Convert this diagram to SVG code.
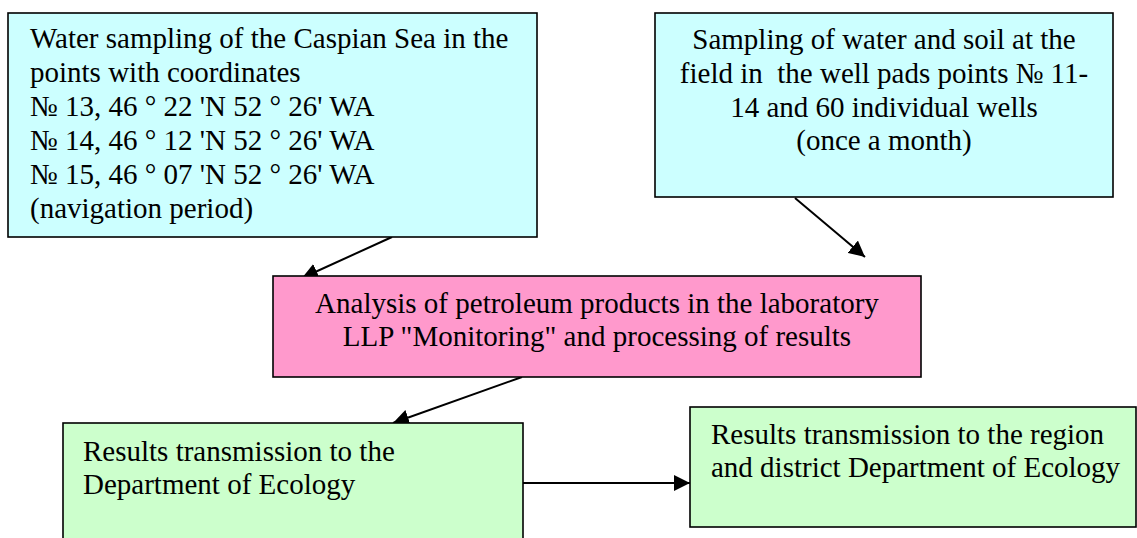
<svg xmlns="http://www.w3.org/2000/svg" width="1137" height="538" viewBox="0 0 1137 538" font-family="'Liberation Serif', 'DejaVu Serif', serif">
<style>
.box{stroke:#000;stroke-width:1.6}
.blue{fill:#CCFFFF}
.pink{fill:#FF99CC}
.green{fill:#CCFFCC}
.t{font-family:'Liberation Serif','DejaVu Serif',serif;font-size:29px;fill:#000}
.c{text-anchor:middle}
.conn{stroke:#000;stroke-width:2;fill:none;marker-end:url(#ah)}
</style>
<defs>
<marker id="ah" markerUnits="userSpaceOnUse" markerWidth="18" markerHeight="16" refX="16" refY="8" orient="auto">
<path d="M0,0 L16,8 L0,16 Z" fill="#000"/>
</marker>
</defs>
<rect width="1137" height="538" fill="#fff"/>
<g id="connectors">
<line class="conn" x1="392" y1="237" x2="302" y2="278"/>
<line class="conn" x1="795" y1="198" x2="865" y2="257"/>
<line class="conn" x1="522" y1="377" x2="393" y2="423"/>
<line class="conn" x1="523" y1="483" x2="690" y2="483"/>
</g>
<g id="node-caspian">
<rect class="box blue" x="8" y="13" width="529" height="224"/>
<text class="t" x="30" y="48">Water sampling of the Caspian Sea in the</text>
<text class="t" x="30" y="82">points with coordinates</text>
<text class="t" x="30" y="116">№ 13, 46 ° 22 'N 52 ° 26' WA</text>
<text class="t" x="30" y="150">№ 14, 46 ° 12 'N 52 ° 26' WA</text>
<text class="t" x="30" y="184">№ 15, 46 ° 07 'N 52 ° 26' WA</text>
<text class="t" x="30" y="218">(navigation period)</text>
</g>
<g id="node-field">
<rect class="box blue" x="655" y="13" width="458" height="184"/>
<text class="t c" x="884" y="49">Sampling of water and soil at the</text>
<text class="t c" x="884" y="83" xml:space="preserve">field in  the well pads points № 11-</text>
<text class="t c" x="884" y="117">14 and 60 individual wells</text>
<text class="t c" x="884" y="150">(once a month)</text>
</g>
<g id="node-analysis">
<rect class="box pink" x="273" y="276" width="648" height="101"/>
<text class="t c" x="597" y="313">Analysis of petroleum products in the laboratory</text>
<text class="t c" x="597" y="346">LLP "Monitoring" and processing of results</text>
</g>
<g id="node-dept">
<rect class="box green" x="63" y="423" width="460" height="130"/>
<text class="t" x="83" y="461">Results transmission to the</text>
<text class="t" x="83" y="494">Department of Ecology</text>
</g>
<g id="node-region">
<rect class="box green" x="690" y="407" width="446" height="120"/>
<text class="t" x="711" y="444">Results transmission to the region</text>
<text class="t" x="711" y="477">and district Department of Ecology</text>
</g>
</svg>
